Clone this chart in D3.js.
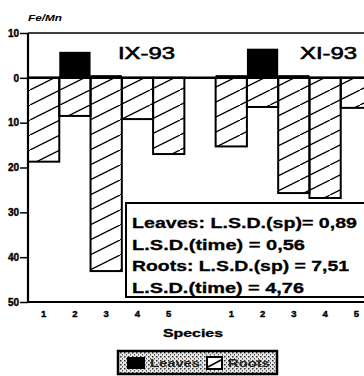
<!DOCTYPE html>
<html>
<head>
<meta charset="utf-8">
<script src="https://cdn.jsdelivr.net/npm/d3@7"></script>
<style>
	html, body { margin: 0; padding: 0; background: #fff; }
	svg { display: block; font-family: "Liberation Sans", Arial, sans-serif; }
</style>
</head>
<body>
<svg id="chart" width="364" height="376"></svg>
<script>
// sampling dates and species
const periods = ["IX-93", "XI-93"];
const species = ["1", "2", "3", "4", "5"];

// Fe/Mn ratio, leaves (drawn upward)
const leavesIX = [0.2, 5.8, 0.6, 0.2, 0.2];
const leavesXI = [0.6, 6.5, 0.6, 0.2, 0.2];
// Fe/Mn ratio, roots (drawn downward)
const rootsIX = [18.7, 8.5, 43.1, 9.2, 17.0];
const rootsXI = [15.3, 6.5, 25.7, 26.8, 6.7];

const yTicks = [10, 0, -10, -20, -30, -40, -50];
const lsdLines = [
	"Leaves: L.S.D.(sp)= 0,89",
	"L.S.D.(time) = 0,56",
	"Roots: L.S.D.(sp) = 7,51",
	"L.S.D.(time) = 4,76"
];

const svg = d3.select("#chart");
const W = 364;

// one slot per species, an empty slot between the two dates
const slots = [];
periods.forEach((p, i) => {
	if (i > 0) slots.push("gap");
	species.forEach(s => slots.push(p + "|" + s));
});

const x = d3.scaleBand().domain(slots).range([28, 372]).paddingInner(0);
const y = d3.scaleLinear().domain([10, -50]).range([33, 302]);

const rows = [];
species.forEach((s, i) => {
	rows.push({key: "IX-93|" + s, leaves: leavesIX[i], roots: rootsIX[i]});
	rows.push({key: "XI-93|" + s, leaves: leavesXI[i], roots: rootsXI[i]});
});

// hatch pattern for roots
const defs = svg.append("defs");
const hatch = defs.append("pattern")
	.attr("id", "hatch")
	.attr("patternUnits", "userSpaceOnUse")
	.attr("width", 30).attr("height", 15);
hatch.append("line")
	.attr("x1", -1).attr("y1", 15.5).attr("x2", 31).attr("y2", -0.5)
	.attr("stroke", "#000").attr("stroke-width", 1.3);

const stipple = defs.append("pattern")
	.attr("id", "stipple")
	.attr("patternUnits", "userSpaceOnUse")
	.attr("width", 4).attr("height", 4);
stipple.append("rect").attr("width", 4).attr("height", 4).attr("fill", "#e6e6e6");
stipple.append("rect").attr("x", 0).attr("y", 0).attr("width", 1.5).attr("height", 1.5).attr("fill", "#333");
stipple.append("rect").attr("x", 2).attr("y", 2).attr("width", 1).attr("height", 1.5).attr("fill", "#555");

// frame lines
svg.append("line")
	.attr("x1", 28).attr("x2", W).attr("y1", y(10)).attr("y2", y(10))
	.attr("stroke", "#000").attr("stroke-width", 1.5);

// roots bars
svg.append("g").selectAll("rect")
	.data(rows)
	.join("rect")
	.attr("x", d => x(d.key))
	.attr("width", x.bandwidth())
	.attr("y", y(0))
	.attr("height", d => y(-d.roots) - y(0))
	.attr("fill", "url(#hatch)")
	.attr("stroke", "#000")
	.attr("stroke-width", 2);

// leaves bars
svg.append("g").selectAll("rect")
	.data(rows)
	.join("rect")
	.attr("x", d => x(d.key))
	.attr("width", x.bandwidth())
	.attr("y", d => y(d.leaves))
	.attr("height", d => y(0) - y(d.leaves))
	.attr("fill", "#000");

// zero line
svg.append("line")
	.attr("x1", 28).attr("x2", W).attr("y1", y(0)).attr("y2", y(0))
	.attr("stroke", "#000").attr("stroke-width", 2.5);

// bottom and left lines
svg.append("line")
	.attr("x1", 28).attr("x2", W).attr("y1", y(-50)).attr("y2", y(-50))
	.attr("stroke", "#000").attr("stroke-width", 2);
svg.append("line")
	.attr("x1", 28).attr("x2", 28).attr("y1", y(10)).attr("y2", y(-50))
	.attr("stroke", "#000").attr("stroke-width", 2.2);

// y axis
const yAxis = svg.append("g")
	.attr("transform", "translate(28,0)")
	.call(d3.axisLeft(y).tickValues(yTicks).tickFormat(d => Math.abs(d)).tickSize(8).tickPadding(1));
yAxis.select(".domain").remove();
yAxis.selectAll(".tick line").attr("stroke-width", 1.5);
yAxis.selectAll("text")
	.attr("font-size", 10).attr("font-weight", "bold")
	.attr("stroke", "#000").attr("stroke-width", 0.4)
	.attr("font-family", "Liberation Sans, Arial, sans-serif");

// x axis
const xAxis = svg.append("g")
	.attr("transform", "translate(0," + y(-50) + ")")
	.call(d3.axisBottom(x).tickValues(slots.filter(s => s !== "gap"))
		.tickFormat(d => d.split("|")[1]).tickSize(0).tickPadding(8));
xAxis.select(".domain").remove();
xAxis.selectAll("text")
	.attr("font-size", 9.5).attr("font-weight", "bold")
	.attr("stroke", "#000").attr("stroke-width", 0.4)
	.attr("font-family", "Liberation Sans, Arial, sans-serif");

// texts
svg.append("text")
	.attr("x", 28).attr("y", 21)
	.attr("font-size", 8.5).attr("font-weight", "bold").attr("font-style", "italic")
	.attr("textLength", 34).attr("lengthAdjust", "spacingAndGlyphs")
	.text("Fe/Mn");

const titleX = [118, 300];
periods.forEach((p, i) => {
	svg.append("text")
		.attr("x", titleX[i]).attr("y", 59)
		.attr("font-size", 17)
		.attr("stroke", "#000").attr("stroke-width", 0.6)
		.attr("textLength", 57).attr("lengthAdjust", "spacingAndGlyphs")
		.text(p);
});

svg.append("text")
	.attr("x", 163).attr("y", 337)
	.attr("font-size", 10).attr("font-weight", "bold")
	.attr("stroke", "#000").attr("stroke-width", 0.3)
	.attr("textLength", 60).attr("lengthAdjust", "spacingAndGlyphs")
	.text("Species");

// L.S.D. box
svg.append("rect")
	.attr("x", 126).attr("y", 203).attr("width", 250).attr("height", 94)
	.attr("fill", "#fff").attr("stroke", "#000").attr("stroke-width", 2);
const lsdW = [225, 173, 217, 172];
lsdLines.forEach((t, i) => {
	svg.append("text")
		.attr("x", 132).attr("y", 228 + i * 21.7)
		.attr("font-size", 15).attr("font-weight", "bold")
		.attr("stroke", "#000").attr("stroke-width", 0.3)
		.attr("textLength", lsdW[i]).attr("lengthAdjust", "spacingAndGlyphs")
		.text(t);
});

// legend
const lg = svg.append("g");
lg.append("rect")
	.attr("x", 118).attr("y", 351).attr("width", 159).attr("height", 23)
	.attr("fill", "url(#stipple)").attr("stroke", "#000").attr("stroke-width", 2.5);
lg.append("rect")
	.attr("x", 127).attr("y", 357).attr("width", 18).attr("height", 12)
	.attr("fill", "#000");
lg.append("text")
	.attr("x", 150).attr("y", 367)
	.attr("font-size", 10).attr("font-weight", "bold").attr("fill", "#222")
	.attr("textLength", 50).attr("lengthAdjust", "spacingAndGlyphs")
	.text("Leaves");
lg.append("rect")
	.attr("x", 207).attr("y", 357).attr("width", 15).attr("height", 12)
	.attr("fill", "#fff").attr("stroke", "#000").attr("stroke-width", 2);
lg.append("line")
	.attr("x1", 208).attr("y1", 367).attr("x2", 221).attr("y2", 360)
	.attr("stroke", "#000").attr("stroke-width", 1.5);
lg.append("text")
	.attr("x", 228).attr("y", 367)
	.attr("font-size", 10).attr("font-weight", "bold").attr("fill", "#222")
	.attr("textLength", 42).attr("lengthAdjust", "spacingAndGlyphs")
	.text("Roots");
</script>
</body>
</html>
